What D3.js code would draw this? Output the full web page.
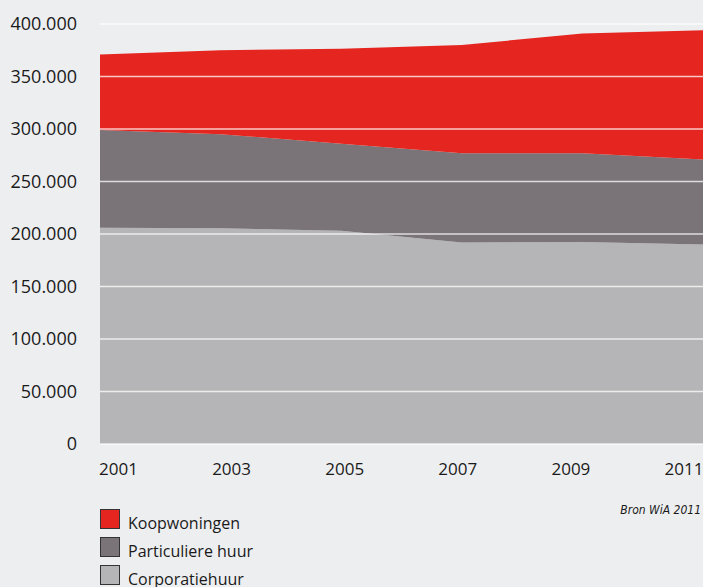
<!DOCTYPE html>
<html lang="nl">
<head>
    <meta charset="UTF-8">
    <title>Woningvoorraad naar eigendom</title>
    <script src="https://d3js.org/d3.v7.min.js"></script>
    <style>
        body {
            margin: 0;
            padding: 0;
            background-color: #edeef0;
            font-family: "Open Sans", "Noto Sans", sans-serif;
        }
        .tick-label {
            font-size: 17px;
            fill: #1a1a1a;
        }
        .y-label {
            font-size: 18px;
        }
        .legend-label {
            font-size: 16px;
            fill: #1a1a1a;
        }
    </style>
</head>
<body>
    <div id="chart"></div>
    <script>
        // data
        const years = [2001, 2003, 2005, 2007, 2009, 2011];
        const corporatiehuur = [206000, 205500, 203000, 192000, 192500, 190000];
        const particuliereHuur = [93000, 89500, 83000, 85000, 84500, 81000];
        const koopwoningen = [72000, 80000, 90500, 103000, 114000, 123000];
        const yTicks = [0, 50000, 100000, 150000, 200000, 250000, 300000, 350000, 400000];
        const seriesNames = ["Corporatiehuur", "Particuliere huur", "Koopwoningen"];
        const legendOrder = ["Koopwoningen", "Particuliere huur", "Corporatiehuur"];
        const colors = ["#b5b5b7", "#7a7478", "#e5251f"];

        const W = 703, H = 587;
        const margin = {top: 24, right: 0, bottom: 143, left: 100};

        const svg = d3.select("#chart")
            .append("svg")
            .attr("width", W)
            .attr("height", H);

        const rows = years.map((yr, i) => ({
            year: yr,
            "Corporatiehuur": corporatiehuur[i],
            "Particuliere huur": particuliereHuur[i],
            "Koopwoningen": koopwoningen[i]
        }));

        const x = d3.scaleLinear()
            .domain([2001, 2011])
            .range([margin.left, W - margin.right]);
        const y = d3.scaleLinear()
            .domain([0, 400000])
            .range([H - margin.bottom, margin.top]);
        const color = d3.scaleOrdinal().domain(seriesNames).range(colors);

        // stacked areas
        const stacked = d3.stack().keys(seriesNames)(rows);
        const area = d3.area()
            .x(d => x(d.data.year))
            .y0(d => y(d[0]))
            .y1(d => y(d[1]));

        svg.append("g")
            .selectAll("path")
            .data(stacked)
            .enter()
            .append("path")
            .attr("fill", d => color(d.key))
            .attr("d", area);

        // gridlines on top of the areas
        svg.append("g")
            .selectAll("line")
            .data(yTicks)
            .enter()
            .append("line")
            .attr("x1", margin.left)
            .attr("x2", W - margin.right)
            .attr("y1", d => y(d))
            .attr("y2", d => y(d))
            .attr("stroke", "#ffffff")
            .attr("stroke-opacity", 0.75)
            .attr("stroke-width", 1.3);

        // y axis labels
        const fmt = d => d === 0 ? "0" : d3.format(",")(d).replace(/,/g, ".");
        svg.append("g")
            .selectAll("text")
            .data(yTicks)
            .enter()
            .append("text")
            .attr("class", "tick-label y-label")
            .attr("x", 77)
            .attr("y", d => y(d))
            .attr("dy", "0.36em")
            .attr("text-anchor", "end")
            .text(fmt);

        // x axis labels, spread evenly from left edge to right edge of the plot
        const labelX = d3.scalePoint()
            .domain(years)
            .range([x(2001) + 18.5, x(2011) - 19]);
        svg.append("g")
            .selectAll("text")
            .data(years)
            .enter()
            .append("text")
            .attr("class", "tick-label")
            .attr("x", d => labelX(d))
            .attr("y", 475)
            .attr("text-anchor", "middle")
            .text(d => d);

        // source
        svg.append("text")
            .attr("x", 701)
            .attr("y", 514)
            .attr("text-anchor", "end")
            .style("font-size", "12px")
            .style("font-style", "italic")
            .style("font-family", "'Liberation Sans Narrow', 'DejaVu Sans Condensed', sans-serif")
            .attr("fill", "#1a1a1a")
            .text("Bron WiA 2011");

        // legend
        const legend = svg.append("g")
            .attr("transform", "translate(100, 509)");
        legend.selectAll("rect")
            .data(legendOrder)
            .enter()
            .append("rect")
            .attr("x", 0.5)
            .attr("y", (d, i) => i * 28 + 0.5)
            .attr("width", 19)
            .attr("height", 19)
            .attr("fill", d => color(d))
            .attr("stroke", "#333")
            .attr("stroke-width", 1);
        legend.selectAll("text")
            .data(legendOrder)
            .enter()
            .append("text")
            .attr("class", "legend-label")
            .attr("x", 28)
            .attr("y", (d, i) => i * 28 + 20)
            .text(d => d);
    </script>
</body>
</html>
